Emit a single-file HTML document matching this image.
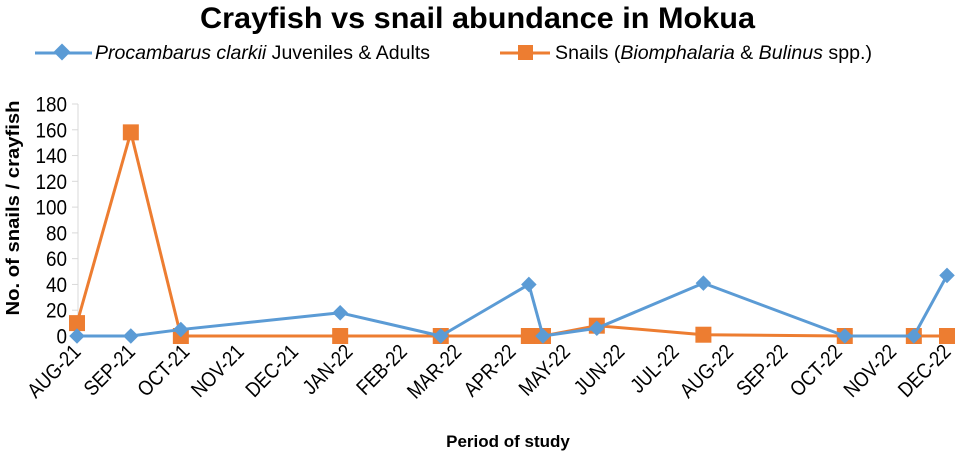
<!DOCTYPE html>
<html><head><meta charset="utf-8"><style>
body{margin:0;background:#fff;}
svg{display:block;font-family:"Liberation Sans",Arial,sans-serif;}
</style></head><body>
<svg id="chart" width="961" height="454" viewBox="0 0 961 454">
<text x="200" y="28" font-size="30" font-weight="bold" textLength="555" lengthAdjust="spacingAndGlyphs">Crayfish vs snail abundance in Mokua</text>
<g>
 <g>
  <line x1="35" y1="53" x2="92" y2="53" stroke="#5B9BD5" stroke-width="3"/>
  <rect x="56" y="46" width="12" height="12" fill="#5B9BD5" transform="rotate(45 62 52)"/>
  <text x="95" y="59" font-size="19" textLength="335" lengthAdjust="spacingAndGlyphs"><tspan font-style="italic">Procambarus clarkii</tspan> Juveniles &amp; Adults</text>
 </g>
 <g>
  <line x1="500" y1="53" x2="550" y2="53" stroke="#ED7D31" stroke-width="3"/>
  <rect x="518" y="45" width="15" height="15" fill="#ED7D31"/>
  <text x="555" y="59" font-size="19" textLength="317" lengthAdjust="spacingAndGlyphs">Snails (<tspan font-style="italic">Biomphalaria</tspan> &amp; <tspan font-style="italic">Bulinus</tspan> spp.)</text>
 </g>
</g>
<text transform="translate(19 208) rotate(-90)" text-anchor="middle" font-size="18" font-weight="bold" textLength="215" lengthAdjust="spacingAndGlyphs">No. of snails / crayfish</text>
<text x="508" y="447" text-anchor="middle" font-size="17" font-weight="bold">Period of study</text>
<g id="axes"></g>
<g id="series"></g>
</svg>
<script>
const months=["AUG-21","SEP-21","OCT-21","NOV-21","DEC-21","JAN-22","FEB-22","MAR-22","APR-22","MAY-22","JUN-22","JUL-22","AUG-22","SEP-22","OCT-22","NOV-22","DEC-22"];
const yTicks=[0,20,40,60,80,100,120,140,160,180];
const sampleMonthPos=[0,0.99,1.91,4.84,6.69,8.31,8.57,9.56,11.52,14.12,15.39,16];
const crayfish=[0,0,5,18,0,40,0,6,41,0,0,47];
const snails=[10,158,0,0,0,0,0,8,1,0,0,0];
const NS="http://www.w3.org/2000/svg";
const X0=77,X1=947,Y0=336,Y1=104;
const xs=m=>X0+(X1-X0)*m/(months.length-1);
const ys=v=>Y0-(Y0-Y1)*v/180;
const axes=document.getElementById('axes'),ser=document.getElementById('series');
function mk(t,a,p){const e=document.createElementNS(NS,t);for(const k in a)e.setAttribute(k,a[k]);p.appendChild(e);return e;}
const yl=mk('line',{x1:78,y1:Y1,x2:78,y2:Y0,stroke:'#d9d9d9','stroke-width':1},axes);


yTicks.forEach(v=>{
 const tk=mk('line',{x1:72,y1:ys(v),x2:78,y2:ys(v),stroke:'#d9d9d9'},axes);
 
 
 const t=mk('text',{x:0,y:0,'text-anchor':'end','font-size':21,transform:`translate(67 ${ys(v)+7.5}) scale(0.9 1)`},axes);
 
 
 t.textContent=v;
});
months.forEach((m,i)=>{
 const x=xs(i);
 const t=mk('text',{x:0,y:0,'text-anchor':'end','font-size':21,transform:`translate(${x+5} 353) rotate(-45) scale(0.86 1)`},axes);
 
 
 t.textContent=m;
});
function series(vals,color,name,shape){
 const pts=vals.map((v,i)=>[xs(sampleMonthPos[i]),ys(v)]);
 const pl=mk('polyline',{points:pts.map(p=>p.join(',')).join(' '),fill:'none',stroke:color,'stroke-width':3,'stroke-linejoin':'round'},ser);
 
 
 pts.forEach(p=>{
  let e;
  if(shape==='diamond') e=mk('rect',{x:p[0]-5.5,y:p[1]-5.5,width:11,height:11,fill:color,transform:`rotate(45 ${p[0]} ${p[1]})`},ser);
  else e=mk('rect',{x:p[0]-8,y:p[1]-8,width:16,height:16,fill:color},ser);
  
  
 });
}
series(snails,'#ED7D31','snails','square');
series(crayfish,'#5B9BD5','crayfish','diamond');
</script>
</body></html>
